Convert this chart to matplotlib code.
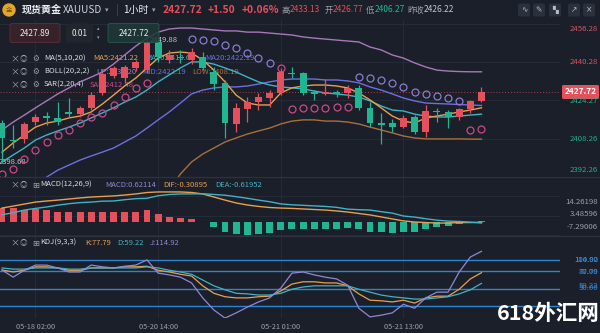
import matplotlib
matplotlib.use("Agg")
import matplotlib.pyplot as plt
import numpy as np
from matplotlib.patches import FancyBboxPatch, Ellipse

plt.rcParams['font.family'] = ['Noto Sans CJK SC', 'DejaVu Sans']

# ── colours ──────────────────────────────────────────────────────────────────
BG = "#1b1f2a"
GRID = "#262b37"
RED = "#e4505b"
GREEN = "#22b592"
C_MA5 = "#e6a050"
C_MA10 = "#3fb3c4"
C_MID = "#6c6fe0"
C_UP = "#a877bb"
C_LOW = "#a96f3b"
C_SAR_UP = "#8a7bd0"
C_SAR_DN = "#c84a88"
C_J = "#8f86d6"
C_LVL = "#2f84d2"
TXT = "#d8dbe2"
GREY = "#9aa0aa"

# ── data (1h candles, 05-17 23:00 .. 05-21 20:00) ────────────────────────────
opens = [2414.9, 2407.8, 2408.3, 2415.3, 2417.8, 2417.0, 2419.5, 2418.6, 2421.2, 2427.4,
         2434.4, 2433.6, 2437.8, 2436.9, 2448.6, 2441.1, 2442.3, 2441.1, 2442.3, 2436.1,
         2431.6, 2414.5, 2420.7, 2423.6, 2425.3, 2427.4, 2435.7, 2435.7, 2427.8, 2426.8,
         2427.8, 2427.4, 2429.5, 2421.2, 2414.9, 2414.9, 2413.2, 2417.4, 2411.2, 2419.9,
         2419.5, 2417.4, 2420.7, 2424.1]
highs = [2416.2, 2414.1, 2415.3, 2418.6, 2419.5, 2423.6, 2425.3, 2422.0, 2427.8, 2436.1,
         2438.6, 2439.0, 2441.1, 2449.88, 2449.4, 2445.3, 2445.3, 2446.1, 2444.4, 2438.2,
         2432.8, 2423.2, 2425.7, 2427.4, 2428.6, 2437.8, 2438.2, 2436.1, 2428.6, 2433.1,
         2428.6, 2430.7, 2430.7, 2423.6, 2419.1, 2416.6, 2418.2, 2418.2, 2422.4, 2421.2,
         2420.3, 2421.2, 2424.5, 2429.9]
lows = [2398.68, 2404.5, 2406.6, 2414.1, 2414.1, 2414.1, 2417.4, 2417.4, 2420.3, 2426.5,
        2433.6, 2431.6, 2436.5, 2435.7, 2440.3, 2439.9, 2439.9, 2439.4, 2436.9, 2428.6,
        2408.7, 2411.2, 2415.3, 2420.3, 2421.6, 2426.5, 2433.6, 2426.5, 2424.5, 2426.5,
        2425.7, 2425.3, 2420.3, 2413.2, 2406.27, 2411.2, 2412.8, 2410.3, 2409.1, 2415.3,
        2412.8, 2416.2, 2419.1, 2423.6]
closes = [2408.7, 2407.4, 2414.5, 2417.4, 2417.0, 2415.3, 2418.6, 2421.2, 2426.5, 2435.3,
          2437.8, 2438.2, 2440.3, 2448.6, 2442.3, 2443.2, 2441.9, 2444.4, 2437.8, 2431.1,
          2414.9, 2421.2, 2423.6, 2425.7, 2427.4, 2436.1, 2435.3, 2427.4, 2427.0, 2427.8,
          2427.0, 2429.5, 2421.2, 2414.9, 2414.1, 2413.2, 2417.0, 2411.2, 2419.9, 2419.5,
          2417.4, 2420.7, 2424.1, 2427.72]

ma5 = [2402.8, 2406.6, 2409.9, 2413.2, 2414.9, 2415.7, 2417.0, 2417.8, 2419.5, 2422.8,
       2426.5, 2430.3, 2433.6, 2437.8, 2441.9, 2444.0, 2444.4, 2444.0, 2441.1, 2436.9,
       2432.0, 2426.5, 2423.2, 2422.4, 2422.4, 2427.4, 2429.5, 2430.3, 2430.7, 2430.7,
       2430.3, 2429.5, 2427.4, 2424.5, 2421.2, 2417.8, 2415.7, 2414.9, 2417.0, 2417.8,
       2418.6, 2419.5, 2420.3, 2421.22]
ma10 = [2398.7, 2401.6, 2404.5, 2407.8, 2409.9, 2411.6, 2413.2, 2414.9, 2417.0, 2419.1,
        2421.2, 2423.6, 2425.7, 2428.6, 2432.0, 2434.9, 2437.8, 2440.3, 2440.3, 2439.4,
        2437.8, 2436.1, 2434.0, 2432.0, 2430.7, 2429.9, 2429.5, 2429.1, 2428.2, 2427.4,
        2427.0, 2426.5, 2425.7, 2424.1, 2422.0, 2420.3, 2419.9, 2418.6, 2417.8, 2417.4,
        2417.4, 2417.8, 2418.2, 2418.6]
boll_mid = [2382.9, 2384.5, 2387.0, 2389.5, 2392.4, 2395.3, 2397.4, 2399.5, 2401.2, 2402.8,
            2404.5, 2407.0, 2409.5, 2412.8, 2416.2, 2419.5, 2423.2, 2427.0, 2428.6, 2429.5,
            2429.9, 2429.9, 2430.3, 2431.1, 2432.0, 2432.8, 2433.2, 2433.2, 2433.2, 2432.8,
            2432.8, 2432.4, 2431.6, 2429.9, 2428.6, 2427.0, 2425.3, 2424.1, 2423.2, 2423.0,
            2422.8, 2422.6, 2422.4, 2422.19]
boll_up = [2412.0, 2415.3, 2418.2, 2421.2, 2424.1, 2427.0, 2429.5, 2432.0, 2434.0, 2436.1,
           2439.4, 2443.2, 2446.9, 2450.2, 2452.7, 2454.0, 2454.4, 2454.4, 2454.0, 2453.6,
           2453.2, 2453.2, 2452.7, 2452.7, 2452.3, 2451.9, 2451.5, 2450.7, 2450.2, 2449.8,
           2449.4, 2449.0, 2448.6, 2446.5, 2445.3, 2443.2, 2441.9, 2439.9, 2438.2, 2436.9,
           2436.5, 2436.3, 2436.2, 2436.20]
boll_low = [np.nan] * 12 + [
            2372.1, 2375.4, 2380.8, 2387.0, 2393.7, 2398.7, 2402.0, 2404.5, 2407.0, 2408.7,
            2410.3, 2411.6, 2412.8, 2414.5, 2415.7, 2416.2, 2416.2, 2415.7, 2415.7, 2415.3,
            2414.5, 2413.2, 2412.0, 2410.8, 2409.5, 2408.7, 2408.3, 2408.3, 2408.3, 2408.3,
            2408.2, 2408.19]
# SAR dots for the three bars around the peak are not visible in the screenshot
sar = [2393.8, 2395.8, 2399.9, 2403.7, 2407.0, 2409.9, 2412.0, 2414.9, 2417.4, 2419.1,
       2422.4, 2425.7, 2429.5, 2431.6, np.nan, np.nan, np.nan, 2449.9, 2449.4, 2448.8,
       2447.3, 2446.1, 2444.0, 2441.9, 2439.9, 2437.8, 2420.9, 2421.0, 2421.2, 2421.3,
       2421.4, 2421.5, 2434.0, 2433.6, 2432.8, 2431.6, 2429.7, 2428.0, 2427.0, 2426.1,
       2425.1, 2424.1, 2411.9, 2412.48]

macd_hist = [7.4, 7.4, 6.5, 6.9, 6.5, 5.6, 5.2, 5.2, 5.6, 5.2, 5.6, 5.2, 5.2, 6.5, 4.1,
             2.8, 2.3, 1.5, -0.2, -2.7, -5.5, -6.9, -7.3, -6.9, -6.4, -4.5, -4.0, -4.0,
             -4.0, -4.0, -4.0, -3.2, -4.2, -5.5, -5.8, -6.4, -5.5, -5.5, -4.2, -3.1, -2.3,
             -1.2, -0.3, 0.62114]
dif = [7.6, 8.7, 9.8, 10.9, 11.5, 12.0, 12.6, 13.2, 13.7, 14.0, 14.3, 14.8, 15.4, 16.2,
       16.5, 16.5, 16.5, 16.2, 15.4, 13.7, 12.0, 10.4, 9.3, 8.5, 7.9, 7.6, 7.4, 7.1, 6.8,
       6.5, 6.0, 5.4, 4.6, 3.8, 2.7, 1.6, 0.5, -0.1, -0.4, -0.7, -0.7, -0.4, -0.4, -0.30895]
dea = [3.9, 5.0, 6.5, 7.4, 8.2, 9.2, 10.0, 10.6, 10.9, 11.4, 11.5, 12.2, 12.8, 13.0,
       14.4, 15.1, 15.4, 15.4, 15.5, 15.1, 14.7, 13.9, 13.0, 12.0, 11.1, 9.9, 9.4, 9.1,
       8.8, 8.5, 8.0, 7.0, 6.7, 6.5, 5.6, 4.8, 3.2, 2.6, 1.7, 0.9, 0.4, 0.2, -0.2, -0.61952]

kdj_k = [82.5, 79, 82, 88, 88, 86, 82, 82, 86, 86, 86, 88, 88, 89, 82, 79, 75, 72, 55, 42,
         36, 34, 34, 36, 37, 46, 58, 62, 62, 60, 60, 55, 41, 30, 29, 27, 30, 25, 34, 37,
         37, 49, 67, 77.79]
kdj_d = [86, 84, 84, 86, 86, 86, 84, 84, 86, 86, 86, 86, 86, 88, 86, 82, 79, 75, 65, 55,
         48, 42, 41, 39, 39, 42, 49, 53, 55, 55, 55, 55, 49, 44, 39, 36, 34, 32, 32, 34,
         36, 41, 48, 59.22]
kdj_j = [82.5, 70, 82, 91, 91, 86, 79, 79, 91, 88, 86, 89, 91, 100, 77, 74, 70, 60, 34, 13,
         -1, 8, 18, 27, 34, 51, 77, 79, 74, 70, 67, 56, 16, 1, 4, 8, 23, 16, 34, 44, 44,
         79, 105, 114.92]

price_ticks = [2456.28, 2440.28, 2424.27, 2408.26, 2392.26]
macd_ticks = [14.26198, 3.48596, -7.29006]
kdj_levels = [100, 80, 50, 20]
date_idx = [3, 14, 25, 36]
date_labels = ["05-18 02:00", "05-20 14:00", "05-21 01:00", "05-21 13:00"]
last_price = 2427.72

# ── figure / panels ─────────────────────────────────────────────────────────
fig = plt.figure(figsize=(6, 3.33), dpi=100)
fig.patch.set_facecolor(BG)

W, H = 600, 333
PW = 560  # plot width in px


def panel(y0, y1):
    a = fig.add_axes([0, 1 - y1 / H, PW / W, (y1 - y0) / H])
    a.set_facecolor(BG)
    for s in a.spines.values():
        s.set_visible(False)
    a.set_xticks([])
    a.set_yticks([])
    a.set_xlim(-0.18, 50.04)
    for i in date_idx:
        a.axvline(i, color=GRID, lw=0.7, zorder=0)
    return a


ax = panel(20, 177)
ax_m = panel(177, 236)
ax_k = panel(236, 318)
ax.set_ylim(2392.45, 2457.74)
ax_m.set_ylim(-7.84, 24.76)
ax_k.set_ylim(-0.9, 141.5)

ov = fig.add_axes([0, 0, 1, 1], zorder=10)
ov.set_xlim(0, W)
ov.set_ylim(H, 0)
ov.axis("off")
ov.patch.set_alpha(0)
P = ov.transData

xs = np.arange(len(opens))
o, h, l, c = map(np.array, (opens, highs, lows, closes))
col = np.where(c >= o, RED, GREEN)

# ── main price panel ────────────────────────────────────────────────────────
for t in price_ticks:
    ax.axhline(t, color=GRID, lw=0.7, zorder=0)
ax.axhline(last_price, color=RED, lw=0.7, ls=(0, (1, 2)), alpha=0.7, zorder=1)

ax.plot(xs, boll_up, color=C_UP, lw=1.0, zorder=3)
ax.plot(xs, boll_low, color=C_LOW, lw=1.0, zorder=3)
ax.plot(xs, boll_mid, color=C_MID, lw=1.0, zorder=3)
ax.plot(xs, ma10, color=C_MA10, lw=1.0, zorder=3)
ax.plot(xs, ma5, color=C_MA5, lw=1.0, zorder=3)

ax.vlines(xs, l, h, colors=col, lw=0.9, zorder=5)
ax.bar(xs, np.maximum(np.abs(c - o), 0.35), bottom=np.minimum(o, c),
       width=0.62, color=col, linewidth=0, zorder=6)

s = np.array(sar)
ok = ~np.isnan(s)
above = ok & (s > h)
below = ok & (s <= h)
ax.plot(xs[above], s[above], "o", ms=5, mfc="none", mec=C_SAR_UP, mew=0.9, zorder=4)
ax.plot(xs[below], s[below], "o", ms=5, mfc="none", mec=C_SAR_DN, mew=0.9, zorder=4)

# legend rows (drawn under the candles)
rows = [
    (58.5, "MA(5,10,20)", [("MA5:2421.22", C_MA5, 93), ("MA10:2418.62", C_MA10, 145),
                           ("MA20:2422.19", C_MID, 205)]),
    (72, "BOLL(20,2,2)", [("UP:2436.20", C_UP, 96), ("MID:2422.19", C_MID, 142),
                          ("LOW:2408.19", C_LOW, 192)]),
    (85, "SAR(2,20,4)", [("SAR:2412.48", C_SAR_DN, 90)]),
]
for y, name, items in rows:
    ax.text(10, y, "×", transform=P, color=GREY, fontsize=6.5, va="center", zorder=2)
    ax.text(20, y, "◎", transform=P, color=GREY, fontsize=5.5, va="center", zorder=2)
    ax.text(32, y, "⚙", transform=P, color=GREY, fontsize=5.5, va="center", zorder=2)
    ax.text(44, y, name, transform=P, color=TXT, fontsize=5.5, va="center", zorder=2)
    for txt, cc, x in items:
        ax.text(x, y, txt, transform=P, color=cc, fontsize=5.5, va="center", zorder=2)

ax.text(150, 39.5, "2449.88", transform=P, color="#c4c7ce", fontsize=5.5,
        va="center", zorder=2)
ax.text(-1, 162, "2398.68", transform=P, color="#c4c7ce", fontsize=5.5,
        va="center", zorder=2)

# ── MACD panel ──────────────────────────────────────────────────────────────
for t in macd_ticks:
    ax_m.axhline(t, color=GRID, lw=0.7, zorder=0)
mh = np.array(macd_hist)
ax_m.bar(xs, mh, width=0.62, color=np.where(mh >= 0, RED, GREEN), linewidth=0, zorder=2)
ax_m.plot(xs, dif, color=C_MA5, lw=1.0, zorder=3)
ax_m.plot(xs, dea, color=C_MA10, lw=1.0, zorder=3)

# ── KDJ panel ───────────────────────────────────────────────────────────────
for lv in kdj_levels:
    ax_k.axhline(lv, color=C_LVL, lw=1.0, zorder=1)
ax_k.plot(xs, kdj_k, color=C_MA5, lw=0.9, zorder=3)
ax_k.plot(xs, kdj_d, color=C_MA10, lw=0.9, zorder=3)
ax_k.plot(xs, kdj_j, color=C_J, lw=0.9, zorder=3)

# panel separators
for y in (177, 236):
    ov.plot([0, W], [y, y], color="#2d3240", lw=0.9)

# ── header ──────────────────────────────────────────────────────────────────
ov.add_patch(Ellipse((9, 10), 12, 12, color="#e2a72a"))
ov.text(9, 10, "金", color="#7a4d00", fontsize=4.5, ha="center", va="center")
head = [
    (22, "现货黄金", "#eceef2", 7.2, "bold"), (63, "XAUUSD", "#cfd3da", 7.2, "normal"),
    (105, "▾", GREY, 5, "normal"), (116, "|", "#4a505c", 7.2, "normal"),
    (123, "1小时", "#eceef2", 7.2, "normal"), (152, "▾", GREY, 5, "normal"),
    (163, "2427.72", RED, 7.4, "bold"), (208, "+1.50", RED, 7.4, "bold"),
    (242, "+0.06%", RED, 7.4, "bold"),
    (282, "高", GREY, 6, "normal"), (290, "2433.13", RED, 6, "normal"),
    (325, "开", GREY, 6, "normal"), (333, "2426.77", RED, 6, "normal"),
    (366, "低", GREY, 6, "normal"), (375, "2406.27", GREEN, 6, "normal"),
    (407, "昨收", GREY, 6, "normal"), (424, "2426.22", "#c0c4cc", 6, "normal"),
]
for x, txt, cc, fs, fw in head:
    ov.text(x, 10, txt, color=cc, fontsize=fs, fontweight=fw, va="center")

for x, g in zip([518, 533, 549, 568, 583], ["∿", "✎", "▚", "↗", "×"]):
    ov.add_patch(FancyBboxPatch((x, 3.5), 12, 13, boxstyle="round,pad=0,rounding_size=2",
                                fc="#2b303d", ec="none"))
    ov.text(x + 6, 10, g, color="#b8bcc6", fontsize=5.5, ha="center", va="center",
            family=["DejaVu Sans"])

# order boxes
ov.add_patch(FancyBboxPatch((10, 23.5), 50, 19, boxstyle="round,pad=0,rounding_size=2",
                            fc="#3a2329", ec="#5c3139", lw=0.6, alpha=0.95))
ov.text(35, 33, "2427.89", color="#e8e8ec", fontsize=6, ha="center", va="center")
ov.add_patch(FancyBboxPatch((66, 23.5), 27, 19, boxstyle="round,pad=0,rounding_size=2",
                            fc="#22262f", ec="none", alpha=0.95))
ov.text(79.5, 33, "0.01", color="#e8e8ec", fontsize=6, ha="center", va="center")
ov.text(98, 29, "▴", color=GREY, fontsize=3.5, ha="center", va="center")
ov.text(98, 38, "▾", color=GREY, fontsize=3.5, ha="center", va="center")
ov.add_patch(FancyBboxPatch((108, 23.5), 51, 19, boxstyle="round,pad=0,rounding_size=2",
                            fc="#1e3936", ec="#2e5e55", lw=0.6, alpha=0.85))
ov.text(134, 33, "2427.72", color="#e8e8ec", fontsize=6, ha="center", va="center")

# indicator legends
ov_rows = [
    (185, "MACD(12,26,9)", [("MACD:0.62114", C_J, 105), ("DIF:-0.30895", C_MA5, 163),
                            ("DEA:-0.61952", C_MA10, 215)]),
    (243, "KDJ(9,3,3)", [("K:77.79", C_MA5, 85), ("D:59.22", C_MA10, 117),
                         ("J:114.92", C_J, 150)]),
]
for y, name, items in ov_rows:
    ov.text(10, y, "×", color=GREY, fontsize=6.5, va="center")
    ov.text(20, y, "◎", color=GREY, fontsize=5.5, va="center")
    ov.text(32, y, "⊞", color=GREY, fontsize=6, va="center")
    ov.text(40, y, name, color=TXT, fontsize=5.5, va="center")
    for txt, cc, x in items:
        ov.text(x, y, txt, color=cc, fontsize=5.5, va="center")

# right axis labels
price_lbl_y = [29, 62, 101, 139, 170]
for t, y in zip(price_ticks, price_lbl_y):
    cc = "#d4565f" if t > last_price else "#1fae8c"
    ov.text(598, y, f"{t:.2f}", color=cc, fontsize=5.6, ha="right", va="center")
ov.add_patch(FancyBboxPatch((562, 85), 37, 14, boxstyle="round,pad=0,rounding_size=1.5",
                            fc=RED, ec="none"))
ov.text(580.5, 92, f"{last_price:.2f}", color="white", fontsize=6, fontweight="bold",
        ha="center", va="center")

for t, y in zip(macd_ticks, [201.7, 214.3, 227.3]):
    ov.text(598, y, f"{t:.5f}", color=GREY, fontsize=5.6, ha="right", va="center")

for txt, y in [("114.92", 259.5), ("100.00", 260.5), ("77.79", 272.5), ("80.00", 271.7),
               ("59.22", 286), ("50.00", 288.5), ("20.00", 305.7), ("0.00", 315)]:
    ov.text(598, y, txt, color="#3a8ee0", fontsize=5.6, ha="right", va="center", alpha=0.9)

for i, lab in zip(date_idx, date_labels):
    xp = 2 + 11.15 * i
    ov.text(xp, 327, lab, color=GREY, fontsize=5.3, ha="center", va="center")

# watermark
ov.text(548, 313, "618外汇网", color="white", fontsize=15.5, fontweight="bold",
        ha="center", va="center")

fig.savefig("out.png", dpi=100, facecolor=fig.get_facecolor())
plt.close(fig)
